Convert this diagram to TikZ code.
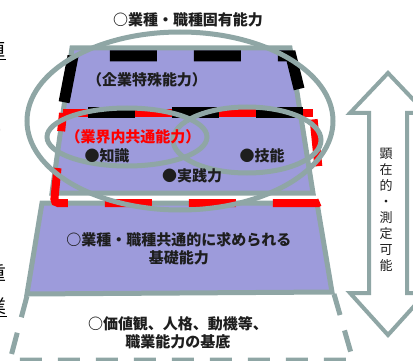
\documentclass[tikz,border=0pt]{standalone}
\usepackage{fontspec}
\newfontfamily\jpfont{Noto Sans CJK JP}
\definecolor{skillgray}{HTML}{8FA6A5}
\definecolor{skillviolet}{HTML}{9D9BDB}
\definecolor{skilldark}{HTML}{1E1E1E}
\begin{document}
\begin{tikzpicture}[x=1pt,y=-1pt,
  label/.style={font=\jpfont\bfseries\fontsize{15}{18}\selectfont,text=skilldark,inner sep=0pt},
  frag/.style={font=\jpfont\fontsize{19}{21}\selectfont,inner sep=0pt,anchor=east},
  ring/.style={draw=skillgray,line width=5pt}]
  \useasboundingbox (0,0) rectangle (413,361);
  % Cut-off text at the left edge
  \begin{scope}
    \clip (0,0) rectangle (8,361);
    \node[frag] (fragA) at (6,50) {\underline{値}};
    \node[frag] (fragB) at (3,133) {ー};
    \node[frag] (fragC) at (7,273) {重};
    \node[frag] (fragD) at (7,307) {\underline{業}};
  \end{scope}
  % Upper block
  \filldraw[fill=skillviolet,draw=skillgray,line width=5pt] (72,48) -- (290,48) -- (313,193) -- (52,193) -- cycle;
  % Common basic block
  \filldraw[fill=skillviolet,draw=skillgray,line width=5pt] (42,203) -- (317,203) -- (332,292) -- (27,294) -- cycle;
  % Foundation, dashed
  \draw[skillgray,line width=5pt,dash pattern=on 22pt off 16pt] (27,296) -- (10,360) -- (353,360) -- (334,294);
  % Industry frame
  \draw[red,line width=8pt,rounded corners=4pt,dash pattern=on 47pt off 37pt,dash phase=77.6pt] (313,113) -- (322,203) -- (54,203) -- (63,113);
  \draw[red,line width=8pt] (63,113) -- (313,113);
  % Firm frame
  \draw[black,line width=11pt,dash pattern=on 47pt off 37pt,dash phase=73pt] (62,113) -- (73,56) -- (291,56) -- (305,113);
  \draw[black,line width=11pt,dash pattern=on 47pt off 37pt] (303,113) -- (62,113);
  % Rings
  \draw[ring] (180,121) ellipse [x radius=153pt,y radius=89pt];
  \draw[ring] (127,137) ellipse [x radius=80pt,y radius=29pt];
  \draw[ring] (247,140) ellipse [x radius=74pt,y radius=33pt];
  % Double arrow
  \filldraw[fill=white,draw=skillgray,line width=4pt] (388,73) -- (426,113) -- (407,113) -- (407,293) -- (426,293) -- (388,335) -- (350,293) -- (369,293) -- (369,113) -- (350,113) -- cycle;
  % Labels
  \node[label] (title) at (188,20) {○業種・職種固有能力};
  \node[label] (firm) at (147,80) {（企業特殊能力）};
  \node[label,text=red] (industry) at (133,137) {（業界内共通能力）};
  \node[label] (knowledge) at (107,156) {●知識};
  \node[label] (skill) at (262,156) {●技能};
  \node[label] (practice) at (192,176) {●実践力};
  \node[label,align=center] (basic) at (179,249) {○業種・職種共通的に求められる\\基礎能力};
  \node[label,align=center] (base) at (178,333) {○価値観、人格、動機等、\\職業能力の基底};
  \node[font=\jpfont\fontsize{13}{16}\selectfont,text=skilldark,align=center,inner sep=0pt] (visible) at (386,210) {顕\\在\\的\\・\\測\\定\\可\\能};
\end{tikzpicture}
\end{document}
